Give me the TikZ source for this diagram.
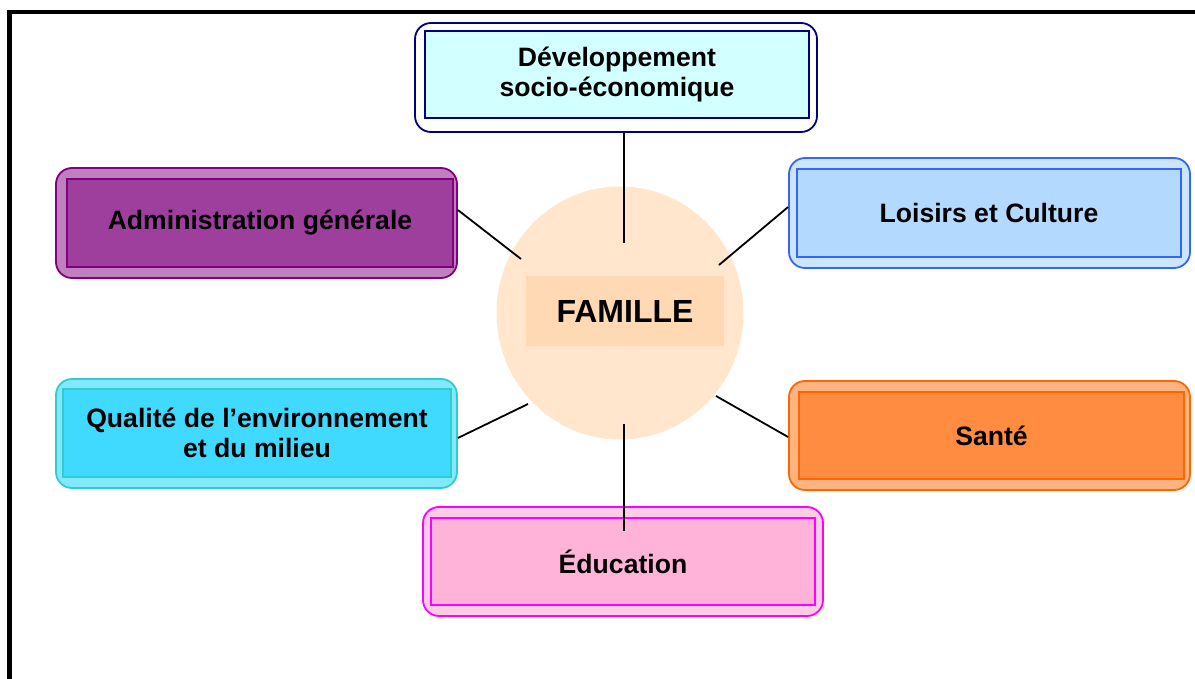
\documentclass[tikz,border=0pt]{standalone}
\usepackage{fontspec}
\setmainfont{Liberation Sans}
\usetikzlibrary{shapes.geometric}
\definecolor{navyB}{HTML}{000080}
\definecolor{cyanIn}{HTML}{D2FFFF}
\definecolor{purB}{HTML}{800080}
\definecolor{purIn}{HTML}{9E3F9E}
\definecolor{purOut}{HTML}{C080C0}
\definecolor{bluB}{HTML}{3366FF}
\definecolor{bluIn}{HTML}{B3D9FF}
\definecolor{bluOut}{HTML}{CCE5FF}
\definecolor{orB}{HTML}{FF6600}
\definecolor{orIn}{HTML}{FF8C40}
\definecolor{orOut}{HTML}{FFB380}
\definecolor{tqB}{HTML}{33CCCC}
\definecolor{tqIn}{HTML}{40D9FF}
\definecolor{tqOut}{HTML}{80E8FF}
\definecolor{pkB}{HTML}{FF00FF}
\definecolor{pkIn}{HTML}{FFB3D9}
\definecolor{pkOut}{HTML}{FFCCE6}
\definecolor{famCirc}{HTML}{FFE6CC}
\definecolor{famRect}{HTML}{FFD9B3}
\tikzset{
  outerbox/.style={rectangle, rounded corners=16pt, line width=1.8pt, inner sep=0pt},
  innerbox/.style={rectangle, line width=1.6pt, inner sep=0pt, align=center,
    font=\bfseries\fontsize{26.6}{30}\selectfont},
  conn/.style={line width=1.8pt, black},
}
\begin{document}
\begin{tikzpicture}[x=1pt,y=-1pt]
\useasboundingbox (0,0) rectangle (1195,679);
\clip (0,0) rectangle (1195,679);
\fill[white] (0,0) rectangle (1195,679);
% frame
\draw[line width=4.8pt] (9.3,720) -- (9.3,12) -- (1230,12);
% central family
\node[ellipse, fill=famCirc, minimum width=247pt, minimum height=253pt, inner sep=0pt] (fam) at (620,313) {};
\node[rectangle, fill=famRect, minimum width=198pt, minimum height=69pt, inner sep=0pt,
  font=\bfseries\fontsize{32}{36}\selectfont] (famt) at (625,311) {FAMILLE};
% boxes
\node[outerbox, draw=navyB, fill=white, minimum width=402pt, minimum height=109pt] (devo) at (616,77.5) {};
\node[innerbox, draw=navyB, fill=cyanIn, minimum width=384pt, minimum height=87pt] (devi) at (617,74.5) {Développement\\socio-économique};

\node[outerbox, draw=purB, fill=purOut, minimum width=401pt, minimum height=110pt] (admo) at (256.5,223) {};
\node[innerbox, draw=purB, fill=purIn, minimum width=386pt, minimum height=88pt] (admi) at (260,223) {Administration générale};

\node[outerbox, draw=bluB, fill=bluOut, minimum width=401pt, minimum height=110pt] (loio) at (989.5,213) {};
\node[innerbox, draw=bluB, fill=bluIn, minimum width=384pt, minimum height=88pt] (loii) at (989,213) {Loisirs et Culture};

\node[outerbox, draw=orB, fill=orOut, minimum width=401pt, minimum height=109pt] (sano) at (989.5,435.5) {};
\node[innerbox, draw=orB, fill=orIn, minimum width=385pt, minimum height=87pt] (sani) at (991.5,435.5) {Santé};

\node[outerbox, draw=tqB, fill=tqOut, minimum width=401pt, minimum height=109pt] (qualo) at (256.5,433.5) {};
\node[innerbox, draw=tqB, fill=tqIn, minimum width=388pt, minimum height=88pt] (quali) at (257,433) {Qualité de l’environnement\\et du milieu};

\node[outerbox, draw=pkB, fill=pkOut, minimum width=400pt, minimum height=109pt] (educo) at (623,561.5) {};
\node[innerbox, draw=pkB, fill=pkIn, minimum width=384pt, minimum height=87pt] (educi) at (623,561.5) {Éducation};
% connector ends inside the circle / box
\coordinate (ctop) at (624,243);
\coordinate (cadm) at (521,259);
\coordinate (cloi) at (719,265);
\coordinate (cqual) at (528,404);
\coordinate (csan) at (716,396);
\coordinate (cedu) at (624,424);
\coordinate (cedubox) at (624,531);
% connectors
\draw[conn] ([xshift=8pt]devo.south) -- (ctop);
\draw[conn] ([yshift=13pt]admo.east) -- (cadm);
\draw[conn] ([yshift=6pt]loio.west) -- (cloi);
\draw[conn] ([yshift=-4.5pt]qualo.east) -- (cqual);
\draw[conn] (csan) -- ([yshift=-1.5pt]sano.west);
\draw[conn] (cedu) -- (cedubox);
\end{tikzpicture}
\end{document}
